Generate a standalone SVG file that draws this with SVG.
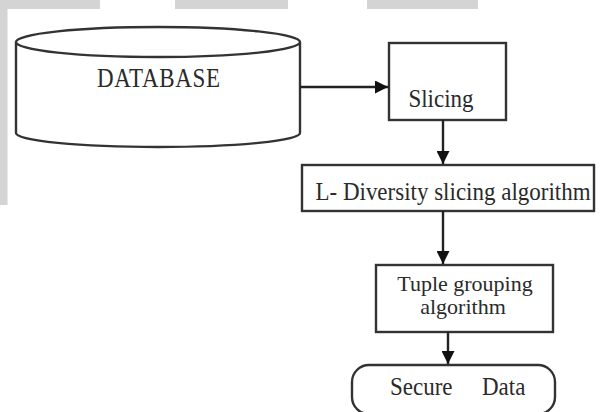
<svg xmlns="http://www.w3.org/2000/svg" width="600" height="412" viewBox="0 0 600 412">
<style>
.shape{fill:#fff;stroke:#333;stroke-width:2.4}
.lbl{font-family:"Liberation Serif","Times New Roman",serif;font-size:23px;fill:#2a2a2a}
.sm{font-size:22px}
.conn{stroke:#222;stroke-width:2.4;fill:none}
.bg{fill:#d4d4d4}
</style>
<defs>
<marker id="ah" viewBox="0 0 10 10" refX="10" refY="5" markerWidth="13" markerHeight="13" markerUnits="userSpaceOnUse" orient="auto">
<path d="M0,0 L10,5 L0,10 z" fill="#111"/>
</marker>
</defs>
<rect width="600" height="412" fill="#fff"/>
<g id="background">
<rect class="bg" x="0" y="0" width="100" height="9"/>
<rect class="bg" x="175" y="0" width="113" height="9"/>
<rect class="bg" x="367" y="0" width="111" height="9"/>
<rect class="bg" x="0" y="0" width="7.5" height="205"/>
</g>
<g id="database">
<path class="shape" d="M16,42 L16,133 A142,14 0 0 0 300,133 L300,42"/>
<ellipse class="shape" cx="158" cy="42" rx="142" ry="15"/>
<text class="lbl" transform="translate(158.5,87) scale(1,1.15)" text-anchor="middle" textLength="123">DATABASE</text>
</g>
<g id="slicing">
<rect class="shape" x="389" y="43" width="117" height="77"/>
<text class="lbl" transform="translate(441,107) scale(1,1.1)" text-anchor="middle">Slicing</text>
</g>
<g id="ldiversity">
<rect class="shape" x="302" y="165" width="292" height="46"/>
<text class="lbl" transform="translate(453,200) scale(1,1.1)" text-anchor="middle">L- Diversity slicing algorithm</text>
</g>
<g id="tuple">
<rect class="shape" x="376" y="265" width="177" height="67"/>
<text class="lbl sm" x="465" y="291" text-anchor="middle">Tuple grouping</text>
<text class="lbl sm" x="463" y="314" text-anchor="middle">algorithm</text>
</g>
<g id="secure">
<rect class="shape" x="352" y="365" width="203" height="49" rx="17"/>
<text class="lbl" transform="translate(390,395) scale(1,1.1)">Secure</text>
<text class="lbl" transform="translate(482,395) scale(1,1.1)">Data</text>
</g>
<g id="connectors">
<line class="conn" x1="300" y1="87" x2="388" y2="87" marker-end="url(#ah)"/>
<line class="conn" x1="443" y1="120" x2="443" y2="164" marker-end="url(#ah)"/>
<line class="conn" x1="443" y1="211" x2="443" y2="264" marker-end="url(#ah)"/>
<line class="conn" x1="448" y1="332" x2="448" y2="364" marker-end="url(#ah)"/>
</g>
</svg>
